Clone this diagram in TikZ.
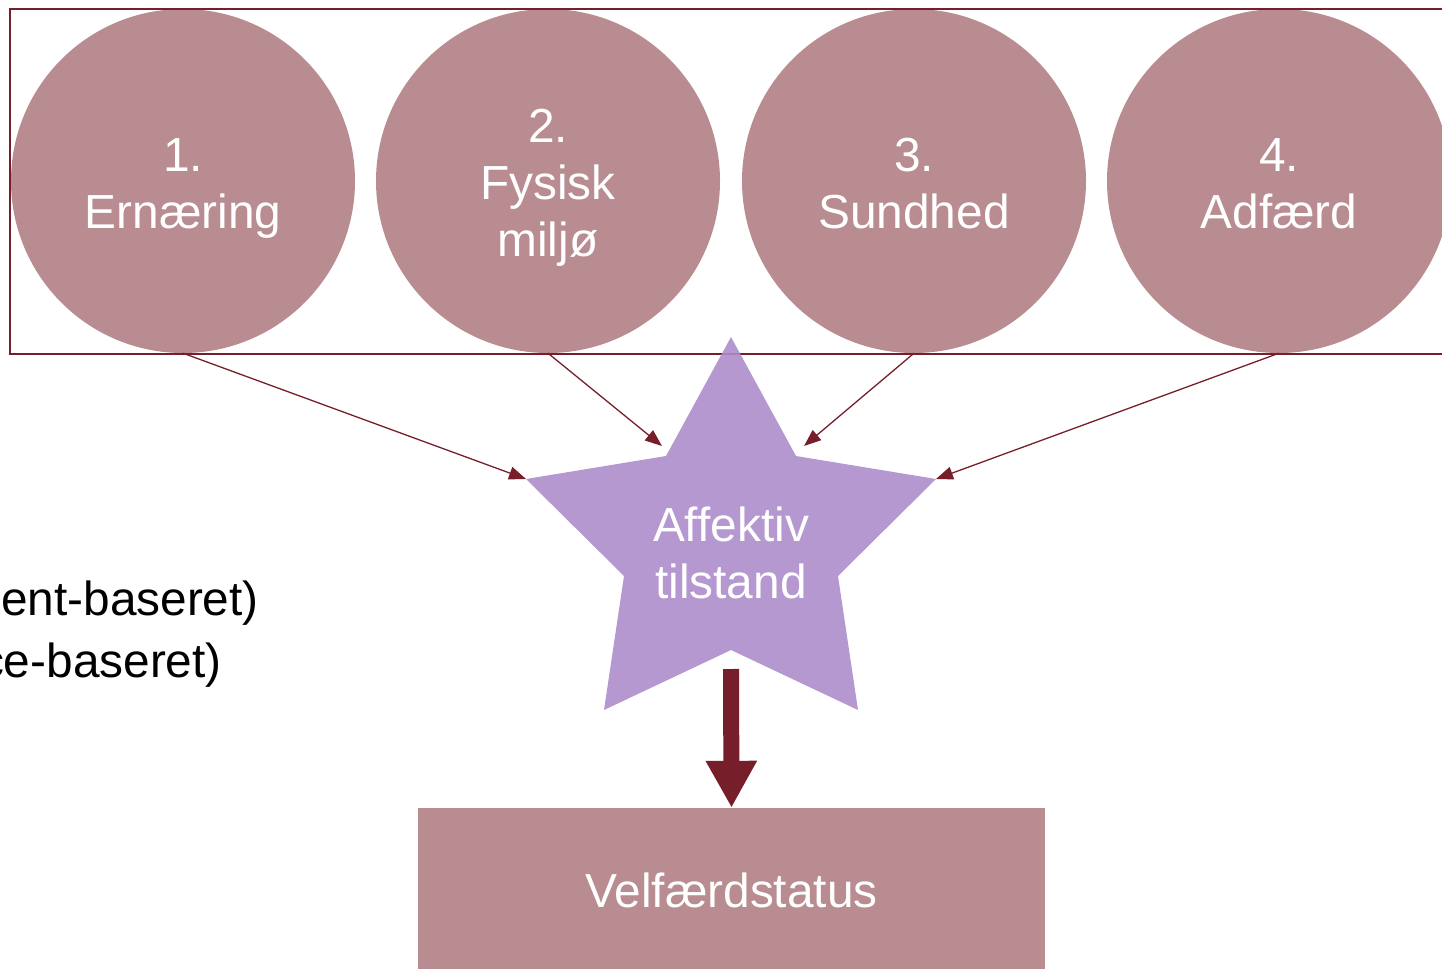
\documentclass[tikz,border=0pt]{standalone}
\usepackage{fontspec}
\setmainfont{Liberation Sans}
\usetikzlibrary{arrows.meta}
\definecolor{rosefill}{HTML}{B88C90}
\definecolor{starfill}{HTML}{AD8DCA}
\definecolor{wine}{HTML}{761F2B}
\newcommand\tstr{\rule{0pt}{49pt}}
\newcommand\bstr{\rule[-12pt]{0pt}{12pt}}
\begin{document}
\begin{tikzpicture}[x=1pt,y=-1pt,
  bigfont/.style={font=\fontsize{47.8}{57}\selectfont},
  circ/.style={circle, fill=rosefill, minimum size=344pt, inner sep=0pt, text=white, bigfont, align=center},
  thin arrow/.style={draw=wine, line width=1.3pt, -{Triangle[length=17pt,width=13pt]}},
  big arrow/.style={draw=wine, line width=16pt, -{Triangle[length=47pt,width=48pt]}},
  sidetext/.style={text=black, bigfont, inner sep=0pt, anchor=base east}
]
\useasboundingbox (0,0) rectangle (1442,969);

% circles
\node[circ] (c1) at (183,181) {\tstr 1.\\Ernæring\bstr};
\node[circ] (c2) at (548,181) {\tstr 2.\\Fysisk\\miljø\bstr};
\node[circ] (c3) at (914,181) {\tstr 3.\\Sundhed\bstr};
\node[circ] (c4) at (1279,181) {\tstr 4.\\Adfærd\bstr};

% frame
\draw[wine, line width=1.8pt] (10,9) rectangle (1470,354);

% star
\fill[starfill, fill opacity=0.9] (731,337) -- (666,456) -- (526,479) -- (624,576) -- (604,710) -- (731,650) -- (858,710) -- (838,576) -- (936,479) -- (796,456) -- cycle;
\node[text=white, bigfont, align=center, inner sep=0pt] (star) at (731,551) {\tstr Affektiv\\tilstand\bstr};

\coordinate (t1) at (526,479);
\coordinate (t2) at (662,446);
\coordinate (t3) at (804,446);
\coordinate (t4) at (936,479);
\coordinate (sb) at (731,669);

% bottom box
\node[fill=rosefill, minimum width=627pt, minimum height=161pt, inner sep=0pt, text=white, bigfont] (velf) at (731.5,888.5) {\tstr Velfærdstatus\bstr};

% side text
\node[sidetext] (s1) at (259,615) {ent-baseret)};
\node[sidetext] (s2) at (222,677) {ce-baseret)};

% connectors
\draw[thin arrow] (c1.south) -- (t1);
\draw[thin arrow] (c2.south) -- (t2);
\draw[thin arrow] (c3.south) -- (t3);
\draw[thin arrow] (c4.south) -- (t4);
\draw[big arrow] (sb) -- (velf.north);
\end{tikzpicture}
\end{document}
